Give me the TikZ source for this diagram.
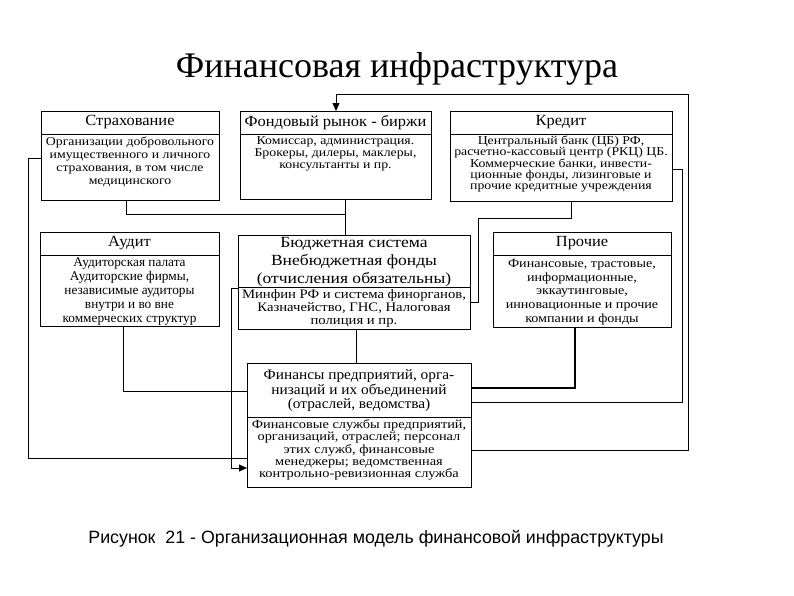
\documentclass[tikz,border=0pt]{standalone}
\usepackage{fontspec}
\setmainfont{Liberation Serif}
\newfontfamily\capfont{Liberation Sans}
\newfontfamily\wideA[FakeStretch=1.15]{Liberation Serif}
\newfontfamily\wideB[FakeStretch=1.06]{Liberation Serif}
\newfontfamily\wideC[FakeStretch=1.13]{Liberation Serif}
\usetikzlibrary{arrows.meta}
\begin{document}
\begin{tikzpicture}[x=1pt,y=-1pt,
  box/.style={draw, line width=0.9pt, inner sep=0pt, anchor=north west},
  sepl/.style={line width=0.8pt},
  hd/.style={font=\wideB\fontsize{15.5}{17.5}\selectfont, align=center, inner sep=0pt},
  bd/.style={font=\wideA\fontsize{12}{12}\selectfont, align=center, inner sep=0pt, anchor=north},
  conn/.style={line width=0.8pt},
  arr/.style={conn, -{Triangle[length=8pt,width=7pt]}}
]
\useasboundingbox (0,0) rectangle (794,595);

\node[font=\fontsize{36}{40}\selectfont, anchor=base] (title) at (397,77) {Финансовая инфраструктура};

% boxes
\node[box, minimum width=178pt, minimum height=89pt] (strah) at (41,111) {};
\node[box, minimum width=191pt, minimum height=88pt] (fond) at (240,111) {};
\node[box, minimum width=222pt, minimum height=90pt] (kred) at (450,111) {};
\node[box, minimum width=179pt, minimum height=94pt] (audit) at (40,232) {};
\node[box, minimum width=232pt, minimum height=94pt] (budj) at (238,235) {};
\node[box, minimum width=178pt, minimum height=95pt] (proch) at (493,232) {};
\node[box, minimum width=224pt, minimum height=124pt] (fin) at (247,363) {};

% separators
\draw[sepl] ([yshift=-23pt]strah.north west) -- ([yshift=-23pt]strah.north east);
\draw[sepl] ([yshift=-23pt]fond.north west) -- ([yshift=-23pt]fond.north east);
\draw[sepl] ([yshift=-23pt]kred.north west) -- ([yshift=-23pt]kred.north east);
\draw[sepl] ([yshift=-23pt]audit.north west) -- ([yshift=-23pt]audit.north east);
\draw[sepl] ([yshift=-52pt]budj.north west) -- ([yshift=-52pt]budj.north east);
\draw[sepl] ([yshift=-23pt]proch.north west) -- ([yshift=-23pt]proch.north east);
\draw[sepl] ([yshift=-54pt]fin.north west) -- ([yshift=-54pt]fin.north east);

% headers
\node[hd] (strah-h) at (130,122.5) {Страхование};
\node[hd] (fond-h) at (335.5,122.5) {Фондовый рынок - биржи};
\node[hd] (kred-h) at (561,122.5) {Кредит};
\node[hd] (audit-h) at (129.5,243.5) {Аудит};
\node[hd, font=\wideC\fontsize{15.5}{18}\selectfont] (budj-h) at (354,262) {Бюджетная система\\Внебюджетная фонды\\(отчисления обязательны)};
\node[hd] (proch-h) at (582,243.5) {Прочие};
\node[hd, font=\wideB\fontsize{14.5}{14.5}\selectfont] (fin-h) at (359,391) {Финансы предприятий, орга-\\низаций и их объединений\\(отраслей, ведомства)};

% bodies
\node[bd, font=\wideA\fontsize{12}{13}\selectfont] (strah-b) at (130,137) {Организации добровольного\\имущественного и личного\\страхования, в том числе\\медицинского};
\node[bd] (fond-b) at (335.5,136) {Комиссар, администрация.\\Брокеры, дилеры, маклеры,\\консультанты и пр.};
\node[bd, font=\wideA\fontsize{12}{11.2}\selectfont] (kred-b) at (561,136) {Центральный банк (ЦБ) РФ,\\расчетно-кассовый центр (РКЦ) ЦБ.\\Коммерческие банки, инвести-\\ционные фонды, лизинговые и\\прочие кредитные учреждения};
\node[bd, font=\fontsize{13.3}{13.8}\selectfont] (audit-b) at (129.5,258) {Аудиторская палата\\Аудиторские фирмы,\\независимые аудиторы\\внутри и во вне\\коммерческих структур};
\node[bd, font=\wideC\fontsize{13}{13}\selectfont] (budj-b) at (354,289) {Минфин РФ и система финорганов,\\Казначейство, ГНС, Налоговая\\полиция и пр.};
\node[bd, font=\wideC\fontsize{12.5}{13.7}\selectfont] (proch-b) at (582,259) {Финансовые, трастовые,\\информационные,\\эккаутинговые,\\инновационные и прочие\\компании и фонды};
\node[bd, font=\wideA\fontsize{12.5}{12.2}\selectfont] (fin-b) at (359,419.5) {Финансовые службы предприятий,\\организаций, отраслей; персонал\\этих служб, финансовые\\менеджеры; ведомственная\\контрольно-ревизионная служба};

% connectors
\draw[conn] (strah.west |- 0,158) -| (28,458) -- (fin.west |- 0,458);
\draw[conn] (strah.south -| 126,0) |- (345,214);
\draw[conn] (fond.south -| 345,0) -- (budj.north -| 345,0);
\draw[conn] (kred.south -| 571,0) |- (478,218) |- (budj.east |- 0,302);
\draw[conn] (budj.south -| 356,0) -- (fin.north -| 356,0);
\draw[arr] (budj.west |- 0,288) -| (231,468) -- (fin.west |- 0,468);
\draw[conn] (audit.south -| 123,0) |- (fin.west |- 0,391);
\draw[conn, line width=1.3pt] (proch.south -| 575,0) |- (fin.east |- 0,388);
\draw[conn] (kred.east |- 0,169) -| (682,402) -- (fin.east |- 0,402);
\draw[arr] (fin.east |- 0,450) -| (688,94) -| (fond.north -| 336,0);

\node[font=\capfont\fontsize{17.8}{20}\selectfont, anchor=base] (cap) at (376,543) {Рисунок~~21 - Организационная модель финансовой инфраструктуры};
\end{tikzpicture}
\end{document}
